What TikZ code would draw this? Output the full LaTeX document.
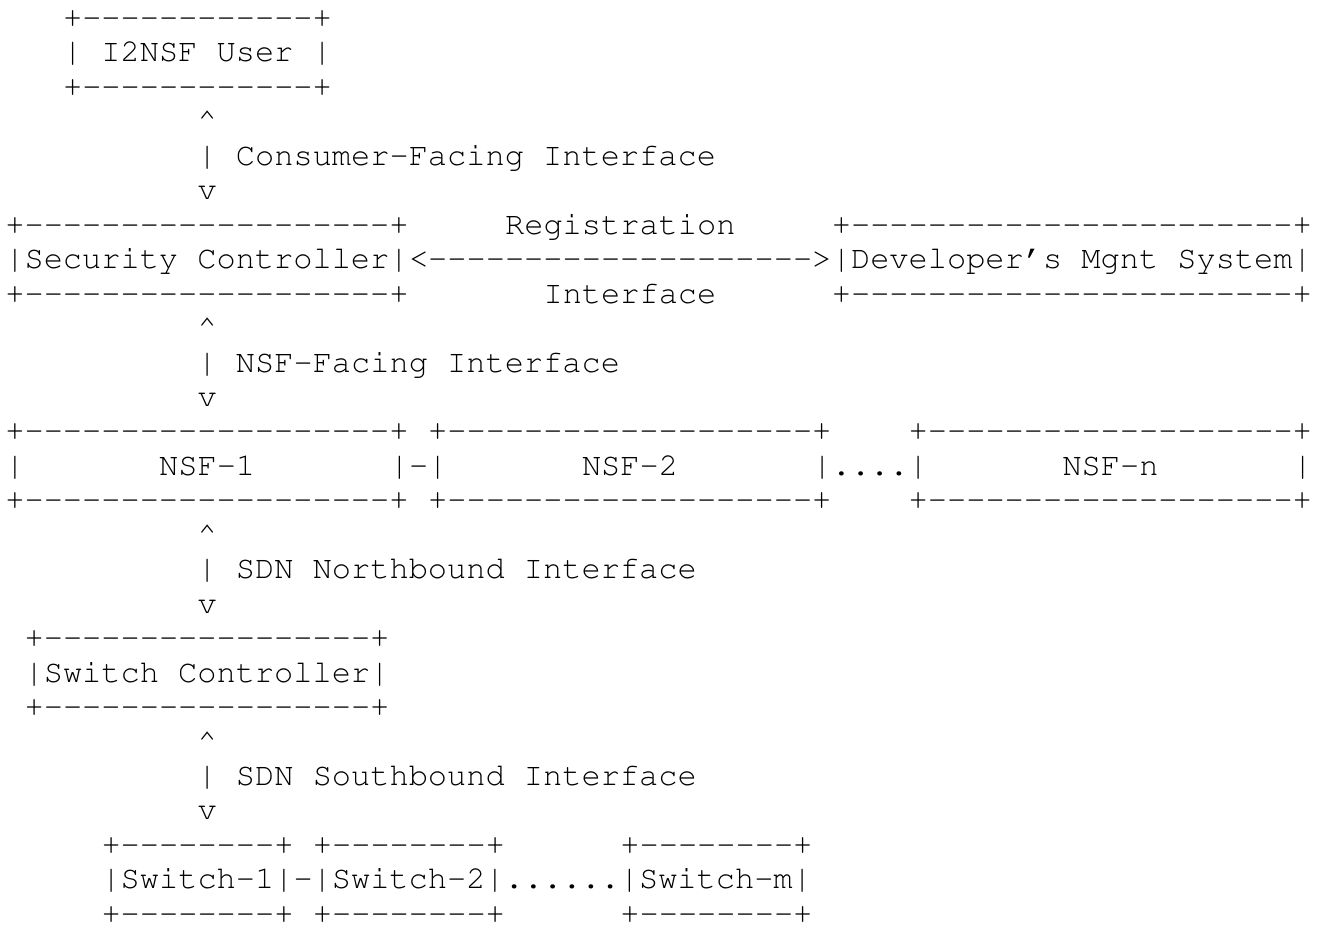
\documentclass[tikz,border=0pt]{standalone}
\usepackage[T1]{fontenc}
\usepackage{fontspec}
\tikzset{
  txt/.style={anchor=base west, inner sep=0pt, outer sep=0pt,
    font=\fontencoding{T1}\fontfamily{pcr}\fontseries{m}\fontshape{n}\fontsize{16}{17}\selectfont,
    text=black}
}
\newcommand{\up}{\textasciicircum}
\newcommand{\dsh}[1]{\foreach \k in {1,...,#1}{-\kern0pt}}
\begin{document}
\begin{tikzpicture}[x=9.61pt,y=-17.23pt]
\useasboundingbox (-2.7pt,13.7pt) rectangle (656.3pt,-449.8pt);
% I2NSF User
\node[txt] (userTop) at (3,0) {+\dsh{12}+};
\node[txt] (user)    at (3,1) {|\ I2NSF\ User\ |};
\node[txt] (userBot) at (3,2) {+\dsh{12}+};
% Consumer-facing interface
\node[txt] (cfiUp)  at (10,3) {\up};
\node[txt] (cfi)    at (10,4) {|\ Consumer-Facing\ Interface};
\node[txt] (cfiDn)  at (10,5) {v};
% Security controller, registration interface, developer's system
\node[txt] (secTop) at (0,6)  {+\dsh{19}+};
\node[txt] (regLbl) at (26,6) {Registration};
\node[txt] (devTop) at (43,6) {+\dsh{23}+};
\node[txt] (sec)    at (0,7)  {|Security\ Controller|};
\node[txt] (reg)    at (21,7) {<\dsh{20}>};
\node[txt] (dev)    at (43,7) {|Developer\textquoteright s\ Mgnt\ System|};
\node[txt] (secBot) at (0,8)  {+\dsh{19}+};
\node[txt] (ifLbl)  at (28,8) {Interface};
\node[txt] (devBot) at (43,8) {+\dsh{23}+};
% NSF-facing interface
\node[txt] (nfiUp)  at (10,9)  {\up};
\node[txt] (nfi)    at (10,10) {|\ NSF-Facing\ Interface};
\node[txt] (nfiDn)  at (10,11) {v};
% NSFs
\node[txt] (nsfaTop) at (0,12)  {+\dsh{19}+};
\node[txt] (nsfbTop) at (22,12) {+\dsh{19}+};
\node[txt] (nsfnTop) at (47,12) {+\dsh{19}+};
\node[txt] (nsfa)    at (0,13)  {|};
\node[txt] (nsfaL)   at (8,13)  {NSF-1};
\node[txt] (nsfab)   at (20,13) {|-|};
\node[txt] (nsfbL)   at (30,13) {NSF-2};
\node[txt] (nsfbn)   at (42,13) {|....|};
\node[txt] (nsfnL)   at (55,13) {NSF-n};
\node[txt] (nsfnR)   at (67,13) {|};
\node[txt] (nsfaBot) at (0,14)  {+\dsh{19}+};
\node[txt] (nsfbBot) at (22,14) {+\dsh{19}+};
\node[txt] (nsfnBot) at (47,14) {+\dsh{19}+};
% SDN northbound interface
\node[txt] (nbiUp)  at (10,15) {\up};
\node[txt] (nbi)    at (10,16) {|\ SDN\ Northbound\ Interface};
\node[txt] (nbiDn)  at (10,17) {v};
% Switch controller
\node[txt] (swcTop) at (1,18) {+\dsh{17}+};
\node[txt] (swc)    at (1,19) {|Switch\ Controller|};
\node[txt] (swcBot) at (1,20) {+\dsh{17}+};
% SDN southbound interface
\node[txt] (sbiUp)  at (10,21) {\up};
\node[txt] (sbi)    at (10,22) {|\ SDN\ Southbound\ Interface};
\node[txt] (sbiDn)  at (10,23) {v};
% Switches
\node[txt] (swaTop) at (5,24)  {+\dsh{8}+};
\node[txt] (swbTop) at (16,24) {+\dsh{8}+};
\node[txt] (swmTop) at (32,24) {+\dsh{8}+};
\node[txt] (sw)     at (5,25)  {|Switch-1|-|Switch-2|......|Switch-m|};
\node[txt] (swaBot) at (5,26)  {+\dsh{8}+};
\node[txt] (swbBot) at (16,26) {+\dsh{8}+};
\node[txt] (swmBot) at (32,26) {+\dsh{8}+};
\end{tikzpicture}
\end{document}
